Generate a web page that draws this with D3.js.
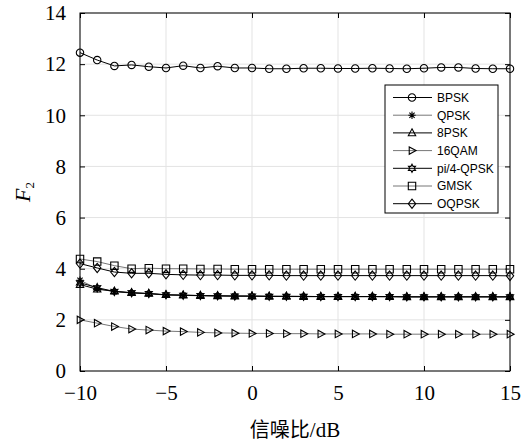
<!DOCTYPE html>
<html>
<head>
<meta charset="utf-8">
<script src="https://cdn.jsdelivr.net/npm/d3@7"></script>
<style>
body { margin: 0; background: #fff; }
</style>
</head>
<body>
<script>
// SNR values (dB) and F2 per modulation
var snr = [-10, -9, -8, -7, -6, -5, -4, -3, -2, -1, 0, 1, 2, 3, 4, 5, 6, 7, 8, 9, 10, 11, 12, 13, 14, 15];

var bpsk  = [12.45, 12.16, 11.93, 11.97, 11.90, 11.85, 11.94, 11.85, 11.92, 11.85, 11.85, 11.82, 11.82,
             11.84, 11.84, 11.83, 11.83, 11.84, 11.83, 11.82, 11.84, 11.87, 11.87, 11.83, 11.82, 11.82];
var qpsk  = [3.55, 3.22, 3.10, 3.05, 3.02, 2.97, 2.96, 2.94, 2.93, 2.93, 2.92, 2.92, 2.91,
             2.91, 2.91, 2.91, 2.91, 2.91, 2.90, 2.90, 2.90, 2.90, 2.90, 2.90, 2.90, 2.90];
var psk8  = [3.38, 3.20, 3.12, 3.06, 3.03, 2.98, 2.97, 2.95, 2.94, 2.93, 2.93, 2.92, 2.92,
             2.91, 2.91, 2.91, 2.91, 2.91, 2.91, 2.90, 2.90, 2.90, 2.90, 2.90, 2.90, 2.90];
var qam16 = [2.00, 1.87, 1.74, 1.64, 1.60, 1.56, 1.54, 1.51, 1.49, 1.48, 1.47, 1.47, 1.46,
             1.46, 1.45, 1.45, 1.45, 1.45, 1.44, 1.44, 1.44, 1.44, 1.44, 1.44, 1.44, 1.44];
var pi4   = [3.45, 3.26, 3.11, 3.06, 3.03, 2.98, 2.96, 2.95, 2.94, 2.93, 2.93, 2.92, 2.92,
             2.92, 2.91, 2.91, 2.91, 2.91, 2.91, 2.90, 2.90, 2.90, 2.90, 2.90, 2.90, 2.90];
var gmsk  = [4.38, 4.28, 4.12, 4.00, 4.02, 4.00, 4.00, 3.99, 3.99, 3.98, 3.98, 3.98, 3.98,
             3.98, 3.98, 3.98, 3.98, 3.98, 3.98, 3.98, 3.98, 3.98, 3.98, 3.98, 3.98, 3.98];
var oqpsk = [4.20, 4.03, 3.87, 3.82, 3.82, 3.78, 3.76, 3.75, 3.75, 3.74, 3.74, 3.74, 3.73,
             3.73, 3.73, 3.73, 3.73, 3.73, 3.73, 3.73, 3.73, 3.73, 3.73, 3.73, 3.73, 3.72];

var names   = ['BPSK', 'QPSK', '8PSK', '16QAM', 'pi/4-QPSK', 'GMSK', 'OQPSK'];
var markers = ['circle', 'asterisk', 'triangle', 'right', 'hexagram', 'square', 'diamond'];
var xTicks = [-10, -5, 0, 5, 10, 15];
var yTicks = [0, 2, 4, 6, 8, 10, 12, 14];

var series = [bpsk, qpsk, psk8, qam16, pi4, gmsk, oqpsk];
var lineColors = ['#000', '#777', '#000', '#777', '#000', '#777', '#000'];

var W = 529, H = 442;
var m = { left: 80, right: 19, top: 13, bottom: 71 };
var iw = W - m.left - m.right, ih = H - m.top - m.bottom;

var svg = d3.select('body').append('svg').attr('width', W).attr('height', H);
var g = svg.append('g').attr('transform', 'translate(' + m.left + ',' + m.top + ')');

var x = d3.scaleLinear().domain([-10, 15]).range([0, iw]);
var y = d3.scaleLinear().domain([0, 14]).range([ih, 0]);

var serif = '"Times New Roman", "Liberation Serif", serif';

// grid
g.selectAll('.gx').data(xTicks).enter().append('line')
    .attr('x1', function(d) { return x(d); }).attr('x2', function(d) { return x(d); })
    .attr('y1', 0).attr('y2', ih)
    .attr('stroke', '#e3e3e3').attr('stroke-width', 1);
g.selectAll('.gy').data(yTicks).enter().append('line')
    .attr('y1', function(d) { return y(d); }).attr('y2', function(d) { return y(d); })
    .attr('x1', 0).attr('x2', iw)
    .attr('stroke', '#e3e3e3').attr('stroke-width', 1);

// axes with inward ticks on all sides
function styleAxis(sel, showText) {
    sel.select('.domain').remove();
    sel.selectAll('line').attr('stroke', '#000');
    sel.selectAll('text').attr('font-family', serif).attr('font-size', 21).attr('fill', '#000');
    if (!showText) sel.selectAll('text').remove();
}
g.append('g').attr('transform', 'translate(0,' + ih + ')')
    .call(d3.axisBottom(x).tickValues(xTicks).tickSizeInner(-5).tickSizeOuter(0).tickPadding(14)
        .tickFormat(function(d) { return d < 0 ? '\u2212' + Math.abs(d) : d; }))
    .call(styleAxis, true);
g.append('g')
    .call(d3.axisTop(x).tickValues(xTicks).tickSizeInner(-5).tickSizeOuter(0))
    .call(styleAxis, false);
g.append('g')
    .call(d3.axisLeft(y).tickValues(yTicks).tickSizeInner(-5).tickSizeOuter(0).tickPadding(14))
    .call(styleAxis, true);
g.append('g').attr('transform', 'translate(' + iw + ',0)')
    .call(d3.axisRight(y).tickValues(yTicks).tickSizeInner(-5).tickSizeOuter(0))
    .call(styleAxis, false);

g.append('rect').attr('width', iw).attr('height', ih)
    .attr('fill', 'none').attr('stroke', '#000').attr('stroke-width', 1);

// marker shapes
function markerPath(type, s) {
    var p = d3.path(), i, a;
    if (type === 'circle') {
        p.moveTo(s, 0); p.arc(0, 0, s, 0, 2 * Math.PI);
    } else if (type === 'square') {
        p.rect(-s, -s, 2 * s, 2 * s);
    } else if (type === 'diamond') {
        p.moveTo(0, -s * 1.25); p.lineTo(s, 0); p.lineTo(0, s * 1.25); p.lineTo(-s, 0); p.closePath();
    } else if (type === 'triangle') {
        p.moveTo(0, -s * 1.1); p.lineTo(s, s * 0.75); p.lineTo(-s, s * 0.75); p.closePath();
    } else if (type === 'right') {
        p.moveTo(s * 1.1, 0); p.lineTo(-s * 0.75, s); p.lineTo(-s * 0.75, -s); p.closePath();
    } else if (type === 'asterisk') {
        for (i = 0; i < 4; i++) {
            a = i * Math.PI / 4;
            p.moveTo(-s * Math.cos(a), -s * Math.sin(a));
            p.lineTo(s * Math.cos(a), s * Math.sin(a));
        }
    } else if (type === 'hexagram') {
        for (i = 0; i < 12; i++) {
            a = -Math.PI / 2 + i * Math.PI / 6;
            var r = i % 2 === 0 ? s * 1.1 : s * 0.6;
            if (i === 0) p.moveTo(r * Math.cos(a), r * Math.sin(a));
            else p.lineTo(r * Math.cos(a), r * Math.sin(a));
        }
        p.closePath();
    }
    return p.toString();
}

var line = d3.line()
    .x(function(d, i) { return x(snr[i]); })
    .y(function(d) { return y(d); });

series.forEach(function(vals, k) {
    g.append('path').datum(vals)
        .attr('d', line)
        .attr('fill', 'none')
        .attr('stroke', lineColors[k])
        .attr('stroke-width', 1);
    g.selectAll('.m' + k).data(vals).enter().append('path')
        .attr('transform', function(d, i) { return 'translate(' + x(snr[i]) + ',' + y(d) + ')'; })
        .attr('d', markerPath(markers[k], 3.7))
        .attr('fill', 'none')
        .attr('stroke', '#000')
        .attr('stroke-width', 1.1);
});

// legend
var lg = svg.append('g').attr('transform', 'translate(385,85)');
lg.append('rect').attr('width', 113).attr('height', 128)
    .attr('fill', '#fff').attr('stroke', '#000').attr('stroke-width', 1);
names.forEach(function(name, k) {
    var yy = 12.5 + k * 17.7;
    lg.append('line').attr('x1', 8).attr('x2', 47).attr('y1', yy).attr('y2', yy)
        .attr('stroke', lineColors[k]).attr('stroke-width', 1);
    lg.append('path').attr('transform', 'translate(27,' + yy + ')')
        .attr('d', markerPath(markers[k], 3.7))
        .attr('fill', 'none').attr('stroke', '#000').attr('stroke-width', 1.1);
    lg.append('text').attr('x', 52).attr('y', yy + 4.3)
        .attr('font-family', 'Arial, "Liberation Sans", sans-serif')
        .attr('font-size', 12).text(name);
});

// axis titles
svg.append('text')
    .attr('x', m.left + iw / 2).attr('y', 437)
    .attr('text-anchor', 'middle')
    .attr('font-size', 21)
    .call(function(t) {
        t.append('tspan').attr('font-family', '"Noto Sans CJK SC", sans-serif').attr('font-size', 20).text('信噪比');
        t.append('tspan').attr('font-family', serif).text('/dB');
    });

svg.append('text')
    .attr('transform', 'translate(30,' + (m.top + ih / 2) + ') rotate(-90)')
    .attr('text-anchor', 'middle')
    .attr('font-family', serif)
    .attr('font-size', 22)
    .call(function(t) {
        t.append('tspan').attr('font-style', 'italic').text('F');
        t.append('tspan').attr('font-size', 13).attr('dy', 4).text('2');
    });
</script>
</body>
</html>
